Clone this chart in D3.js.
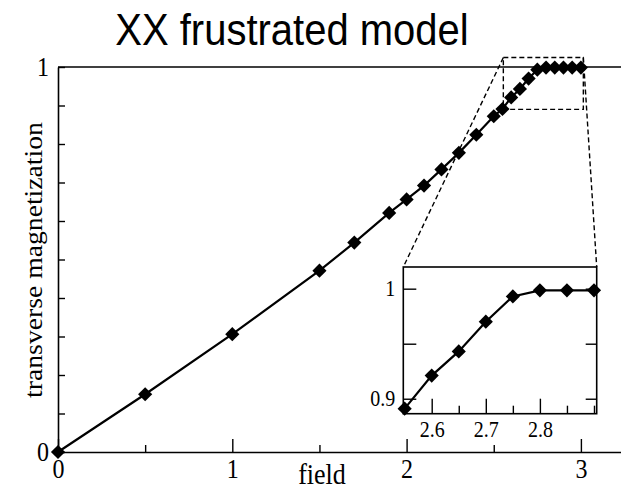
<!DOCTYPE html>
<html>
<head>
<meta charset="utf-8">
<script src="https://cdn.jsdelivr.net/npm/d3@7"></script>
<style>
  html, body { margin: 0; padding: 0; background: #fff; }
  svg { display: block; }
</style>
</head>
<body>
<svg id="chart" width="621" height="491"></svg>
<script>
// Field values and the transverse magnetization measured at each
const fieldValues = [0, 0.5, 1, 1.5, 1.7, 1.9, 2.0, 2.1, 2.2, 2.3, 2.4, 2.5,
                     2.55, 2.6, 2.65, 2.7, 2.75, 2.8, 2.85, 2.9, 2.95, 3.0];
const magnetization = [0, 0.150, 0.306, 0.471, 0.544, 0.621, 0.656, 0.692, 0.734, 0.777, 0.824, 0.872,
                       0.891, 0.921, 0.943, 0.970, 0.993, 0.9985, 0.9985, 0.9985, 0.9985, 0.9985];

// Tick values and labels
const mainXMajor = [0, 1, 2, 3];
const mainXMinor = [0.5, 1.5, 2.5];
const mainYTicks = d3.range(0, 11).map(i => i / 10);
const mainYLabels = [0, 1];
const insetXMajor = [2.6, 2.7, 2.8];
const insetXMinor = [2.65, 2.75, 2.85, 2.9];
const insetYTicks = [0.9, 0.95, 1];
const insetYLabels = [0.9, 1];

// Axis ranges and the magnified window
const mainXDomain = [0, 3.3];
const mainYDomain = [0, 1];
const insetXDomain = [2.5475, 2.905];
const insetYDomain = [0.8864, 1.0197];
const zoomWindowX = [2.555, 3.014];
const zoomWindowY = [0.89, 1.0245];

const data = fieldValues.map((f, i) => ({ x: f, y: magnetization[i] }));

const svg = d3.select("#chart");
const serif = "'Liberation Serif', 'Times New Roman', serif";
const stretch = 1.13;

// Main panel geometry
const mx = d3.scaleLinear().domain(mainXDomain).range([58, 58 + 174.3 * 3.3]);
const my = d3.scaleLinear().domain(mainYDomain).range([452, 67]);

// Inset panel geometry
const ix = d3.scaleLinear().domain(insetXDomain).range([403.3, 596.7]);
const iy = d3.scaleLinear().domain(insetYDomain).range([413.7, 267]);

function stretchText(sel, dx, dy) {
  sel.attr("x", null).attr("y", null).attr("dy", null)
     .attr("transform", `translate(${dx},${dy}) scale(1,${stretch})`);
}

// Title
svg.append("text")
  .attr("transform", `translate(292,45) scale(1,1.11)`)
  .attr("text-anchor", "middle")
  .style("font-family", "'Liberation Sans', Arial, sans-serif")
  .style("font-size", "40px")
  .text("XX frustrated model");

// ---- Main axes ----
const gx = svg.append("g").attr("transform", `translate(0,${my(0)})`);
gx.call(d3.axisBottom(mx).tickValues(mainXMajor).tickSizeInner(-13).tickSizeOuter(0)
  .tickFormat(d3.format("d")));
gx.select(".domain").attr("stroke-width", 1.6);
gx.selectAll(".tick line").attr("stroke-width", 1.4);
gx.selectAll(".tick text")
  .style("font-family", serif).style("font-size", "24px").attr("fill", "#000")
  .each(function () { stretchText(d3.select(this), 0, 26); });

const gxMinor = svg.append("g").attr("transform", `translate(0,${my(0)})`);
gxMinor.call(d3.axisBottom(mx).tickValues(mainXMinor).tickSizeInner(-7).tickSizeOuter(0)
  .tickFormat(() => ""));
gxMinor.select(".domain").remove();
gxMinor.selectAll(".tick line").attr("stroke-width", 1.4);

const gy = svg.append("g").attr("transform", `translate(${mx(0)},0)`);
gy.call(d3.axisLeft(my).tickValues(mainYTicks).tickSizeInner(-7).tickSizeOuter(0)
  .tickPadding(9)
  .tickFormat(d => mainYLabels.includes(d) ? d3.format("d")(d) : ""));
gy.select(".domain").attr("stroke-width", 1.6);
gy.selectAll(".tick line").attr("stroke-width", 1.4);
gy.selectAll(".tick text")
  .style("font-family", serif).style("font-size", "24px").attr("fill", "#000")
  .attr("text-anchor", "end")
  .each(function () { stretchText(d3.select(this), -9, 8); });

// Top frame edge
svg.append("line")
  .attr("x1", mx(mainXDomain[0])).attr("x2", mx(mainXDomain[1]))
  .attr("y1", my(1)).attr("y2", my(1))
  .attr("stroke", "#000").attr("stroke-width", 1.6);

// Axis titles
svg.append("text")
  .attr("transform", `translate(322,484) scale(1,${stretch})`)
  .attr("text-anchor", "middle")
  .style("font-family", serif).style("font-size", "26px")
  .text("field");

svg.append("text")
  .attr("transform", `translate(42,260) scale(1,${stretch}) rotate(-90)`)
  .attr("text-anchor", "middle")
  .style("font-family", serif).style("font-size", "24.5px")
  .text("transverse magnetization");

// Diamond marker
const diamond = d3.symbol().type(d3.symbolDiamond2).size(128);

// ---- Main curve ----
const mainLine = d3.line().x(d => mx(d.x)).y(d => my(d.y));
svg.append("path").datum(data)
  .attr("d", mainLine)
  .attr("fill", "none").attr("stroke", "#000").attr("stroke-width", 2.2);

svg.append("g").selectAll("path").data(data).join("path")
  .attr("d", diamond)
  .attr("transform", d => `translate(${mx(d.x)},${my(d.y)})`)
  .attr("fill", "#000");

// ---- Magnified window and connector lines ----
const dash = "5,3";
svg.append("rect")
  .attr("x", mx(zoomWindowX[0])).attr("y", my(zoomWindowY[1]))
  .attr("width", mx(zoomWindowX[1]) - mx(zoomWindowX[0]))
  .attr("height", my(zoomWindowY[0]) - my(zoomWindowY[1]))
  .attr("fill", "none").attr("stroke", "#000").attr("stroke-width", 1.4)
  .attr("stroke-dasharray", dash);

svg.append("line")
  .attr("x1", mx(zoomWindowX[0])).attr("y1", my(zoomWindowY[1]))
  .attr("x2", ix(insetXDomain[0])).attr("y2", iy(insetYDomain[1]))
  .attr("stroke", "#000").attr("stroke-width", 1.4).attr("stroke-dasharray", dash);

svg.append("line")
  .attr("x1", mx(zoomWindowX[1])).attr("y1", my(zoomWindowY[1]))
  .attr("x2", ix(insetXDomain[1])).attr("y2", iy(insetYDomain[1]))
  .attr("stroke", "#000").attr("stroke-width", 1.4).attr("stroke-dasharray", dash);

// ---- Inset ----
const inset = svg.append("g");
inset.append("rect")
  .attr("x", ix(insetXDomain[0])).attr("y", iy(insetYDomain[1]))
  .attr("width", ix(insetXDomain[1]) - ix(insetXDomain[0]))
  .attr("height", iy(insetYDomain[0]) - iy(insetYDomain[1]))
  .attr("fill", "#fff").attr("stroke", "#000").attr("stroke-width", 1.6);

const igx = inset.append("g").attr("transform", `translate(0,${iy(insetYDomain[0])})`);
igx.call(d3.axisBottom(ix).tickValues(insetXMajor).tickSizeInner(-15).tickSizeOuter(0)
  .tickFormat(d3.format(".1f")));
igx.select(".domain").remove();
igx.selectAll(".tick line").attr("stroke-width", 1.4);
igx.selectAll(".tick text")
  .style("font-family", serif).style("font-size", "20px").attr("fill", "#000")
  .each(function () { stretchText(d3.select(this), 0, 23); });

const igxMinor = inset.append("g").attr("transform", `translate(0,${iy(insetYDomain[0])})`);
igxMinor.call(d3.axisBottom(ix).tickValues(insetXMinor).tickSizeInner(-8).tickSizeOuter(0)
  .tickFormat(() => ""));
igxMinor.select(".domain").remove();
igxMinor.selectAll(".tick line").attr("stroke-width", 1.4);

const igy = inset.append("g").attr("transform", `translate(${ix(insetXDomain[0])},0)`);
igy.call(d3.axisLeft(iy).tickValues(insetYTicks).tickSizeInner(-13).tickSizeOuter(0)
  .tickFormat(d => insetYLabels.includes(d) ? (d === 1 ? "1" : d3.format(".1f")(d)) : ""));
igy.select(".domain").remove();
igy.selectAll(".tick line").attr("stroke-width", 1.4);
igy.selectAll(".tick text")
  .style("font-family", serif).style("font-size", "20px").attr("fill", "#000")
  .attr("text-anchor", "end")
  .each(function () { stretchText(d3.select(this), -8, 7); });

const igyRight = inset.append("g").attr("transform", `translate(${ix(insetXDomain[1])},0)`);
igyRight.call(d3.axisRight(iy).tickValues(insetYTicks).tickSizeInner(-11).tickSizeOuter(0)
  .tickFormat(() => ""));
igyRight.select(".domain").remove();
igyRight.selectAll(".tick line").attr("stroke-width", 1.4);

const insetData = data.filter(d => d.x >= insetXDomain[0] && d.x <= insetXDomain[1]);
const insetLine = d3.line().x(d => ix(d.x)).y(d => iy(d.y));
inset.append("path").datum(insetData)
  .attr("d", insetLine)
  .attr("fill", "none").attr("stroke", "#000").attr("stroke-width", 2.2);

inset.append("g").selectAll("path").data(insetData).join("path")
  .attr("d", diamond)
  .attr("transform", d => `translate(${ix(d.x)},${iy(d.y)})`)
  .attr("fill", "#000");
</script>
</body>
</html>
